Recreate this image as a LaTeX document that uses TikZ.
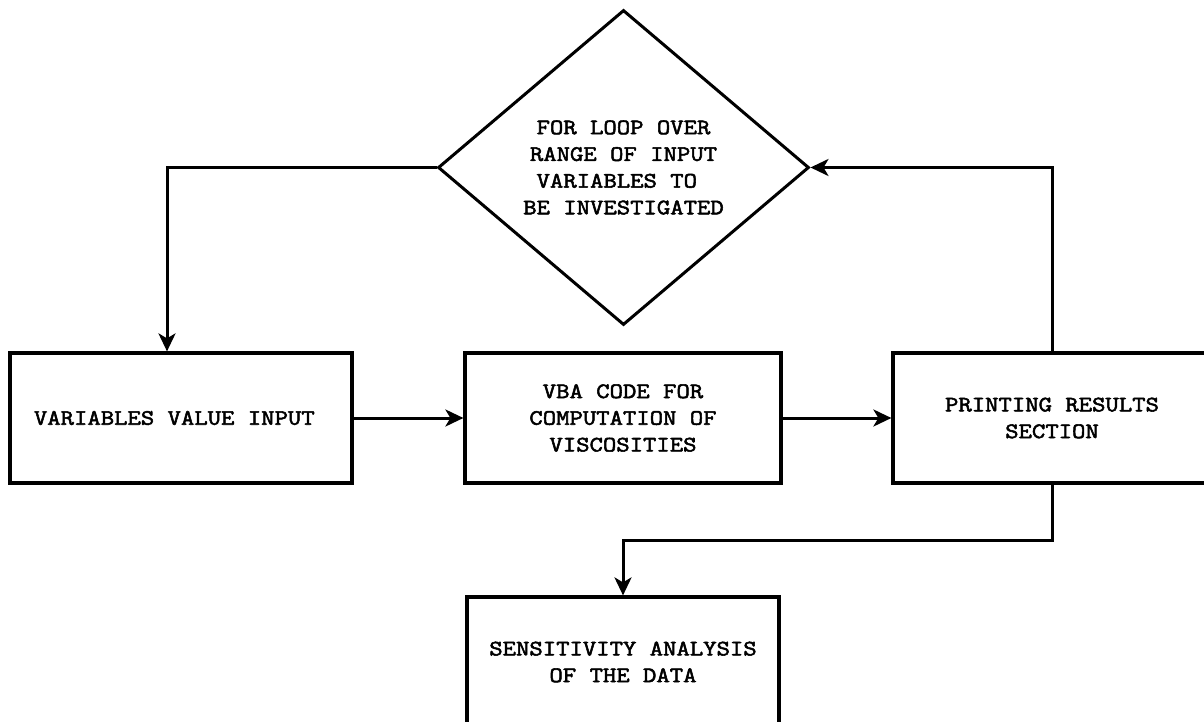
\documentclass[tikz,border=0pt]{standalone}
\usepackage{fontspec}
\newfontfamily\courfont{Latin Modern Mono}[FakeStretch=1.18, FakeBold=2.4]
\usetikzlibrary{shapes.geometric,arrows.meta}
\begin{document}
\begin{tikzpicture}[x=1pt,y=-1pt,
  lbl/.style={font=\courfont\fontsize{22}{26.7}\selectfont, align=center},
  procbox/.style={lbl, draw, line width=3.2pt, inner sep=0pt, minimum height=130pt},
  decision/.style={lbl, draw, shape=diamond, line width=3pt, inner sep=0pt, minimum width=371pt, minimum height=315pt},
  arr/.style={line width=3pt, -{Stealth[length=18pt,width=17pt,inset=5pt]}}
]
\useasboundingbox (0,0) rectangle (1204,722);
\fill[white] (0,0) rectangle (1204,722);

\node[decision] (dia) at (623.5,167.5)
  {FOR LOOP OVER\\RANGE OF INPUT\\VARIABLES TO\hphantom{X}\\BE INVESTIGATED};
\node[procbox, minimum width=342pt] (inp) at (181,418) {VARIABLES VALUE INPUT\hphantom{X}};
\node[procbox, minimum width=316pt] (vba) at (623,418) {VBA CODE FOR\\COMPUTATION OF\\VISCOSITIES};
\node[procbox, minimum width=318pt] (prn) at (1052,418) {PRINTING RESULTS\\SECTION};
\node[procbox, minimum width=312pt] (sen) at (623,662) {SENSITIVITY ANALYSIS\\OF THE DATA};

\draw[arr] (dia.west) -| ([xshift=-14pt]inp.north);
\draw[arr] (inp.east) -- (vba.west);
\draw[arr] (vba.east) -- (prn.west);
\draw[arr] (prn.north) |- (dia.east);
\draw[arr] (prn.south) -- ++(0,56) -| (sen.north);
\end{tikzpicture}
\end{document}
